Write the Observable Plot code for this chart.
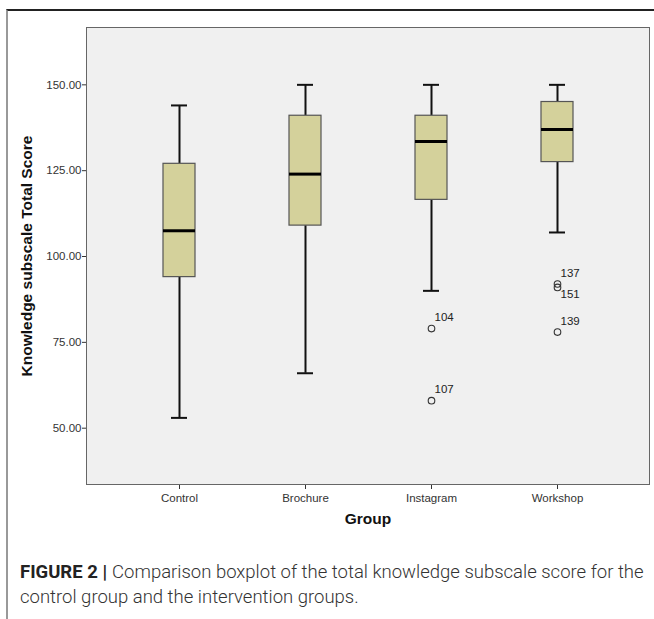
<!DOCTYPE html>
<html>
<head>
<meta charset="utf-8">
<script src="https://cdn.jsdelivr.net/npm/d3@7"></script>
<script src="https://cdn.jsdelivr.net/npm/@observablehq/plot@0.6"></script>
<style>
  html, body { margin: 0; padding: 0; background: #fff; }
  #fig {
    position: absolute; left: 6px; top: 9px; width: 648px; height: 610px;
    border-top: 2px solid #222; border-left: 2px solid #999; box-sizing: border-box;
  }
  #chart svg { display: block; }
  #caption {
    position: absolute; left: 12px; top: 549px; width: 640px;
    font-family: Roboto, "Liberation Sans", sans-serif; font-weight: 300;
    font-size: 18.5px; line-height: 25px; color: #333; white-space: nowrap;
  }
  #caption b { font-weight: 700; color: #222; margin-right: 5px; }
</style>
</head>
<body>
<div id="fig">
  <div id="chart"></div>
  <div id="caption">
    <div><b>FIGURE 2 |</b><span>Comparison boxplot of the total knowledge subscale score for the</span></div>
    <div>control group and the intervention groups.</div>
  </div>
</div>
<script>
const groups = ["Control", "Brochure", "Instagram", "Workshop"];
const whiskerLow = [53, 66, 90, 107];
const q1 = [94, 109, 116.5, 127.5];
const median = [107.5, 124, 133.5, 137];
const q3 = [127, 141, 141, 145];
const whiskerHigh = [144, 150, 150, 150];

const outlierGroup = ["Instagram", "Instagram", "Workshop", "Workshop", "Workshop"];
const outlierValue = [79, 58, 92, 91, 78];
const outlierCase = ["104", "107", "137", "151", "139"];

const yTicks = [50, 75, 100, 125, 150];
const yLabel = "Knowledge subscale Total Score";
const xLabel = "Group";

const boxes = groups.map((g, i) => ({
  group: g, low: whiskerLow[i], q1: q1[i], median: median[i], q3: q3[i], high: whiskerHigh[i]
}));
const outliers = outlierGroup.map((g, i) => ({group: g, value: outlierValue[i], label: outlierCase[i]}));

const font = "Liberation Sans, Arial, sans-serif";

const chart = Plot.plot({
  width: 646,
  height: 535,
  marginLeft: 78,
  marginRight: 5,
  marginTop: 16,
  marginBottom: 62,
  style: {fontFamily: font, fontSize: "11.5px", color: "#333", background: "transparent"},
  x: {domain: groups, paddingInner: 0.7475, paddingOuter: 0.595, label: null},
  y: {domain: [33.6, 166.7], label: null},
  marks: [
    Plot.frame({fill: "#f0f0f0"}),
    Plot.axisY({ticks: yTicks, tickFormat: d3.format(".2f"), tickSize: 4, tickPadding: 1, stroke: "#333", fill: "#333", label: null, fontSize: 11.5}),
    Plot.axisX({tickSize: 5, tickPadding: 4, stroke: "#333", fill: "#333", label: null, fontSize: 11.5}),
    Plot.ruleX(boxes, {x: "group", y1: "low", y2: "q1", stroke: "#111", strokeWidth: 2}),
    Plot.ruleX(boxes, {x: "group", y1: "q3", y2: "high", stroke: "#111", strokeWidth: 2}),
    Plot.tickY(boxes, {x: "group", y: "low", stroke: "#111", strokeWidth: 2, insetLeft: 8, insetRight: 8}),
    Plot.tickY(boxes, {x: "group", y: "high", stroke: "#111", strokeWidth: 2, insetLeft: 8, insetRight: 8}),
    Plot.barY(boxes, {x: "group", y1: "q1", y2: "q3", fill: "#d4d19b", stroke: "#555", strokeWidth: 1.2}),
    Plot.tickY(boxes, {x: "group", y: "median", stroke: "#000", strokeWidth: 3}),
    Plot.dot(outliers, {x: "group", y: "value", r: 3.3, stroke: "#333", strokeWidth: 1.1, fill: "none"}),
    Plot.text(outliers.filter(d => d.label !== "151"), {x: "group", y: "value", text: "label", dx: 3, dy: -11, textAnchor: "start", fontSize: 11.5, fill: "#222"}),
    Plot.text(outliers.filter(d => d.label === "151"), {x: "group", y: "value", text: "label", dx: 3, dy: 7, textAnchor: "start", fontSize: 11.5, fill: "#222"}),
    Plot.frame({stroke: "#666"}),
    Plot.text([yLabel], {frameAnchor: "left", textAnchor: "middle", rotate: -90, dx: -59, text: d => d, fontSize: 15.5, fontWeight: "bold", fill: "#111"}),
    Plot.text([xLabel], {frameAnchor: "bottom", dy: 39, text: d => d, fontSize: 15.5, fontWeight: "bold", fill: "#111"})
  ]
});
document.getElementById("chart").appendChild(chart);
</script>
</body>
</html>
